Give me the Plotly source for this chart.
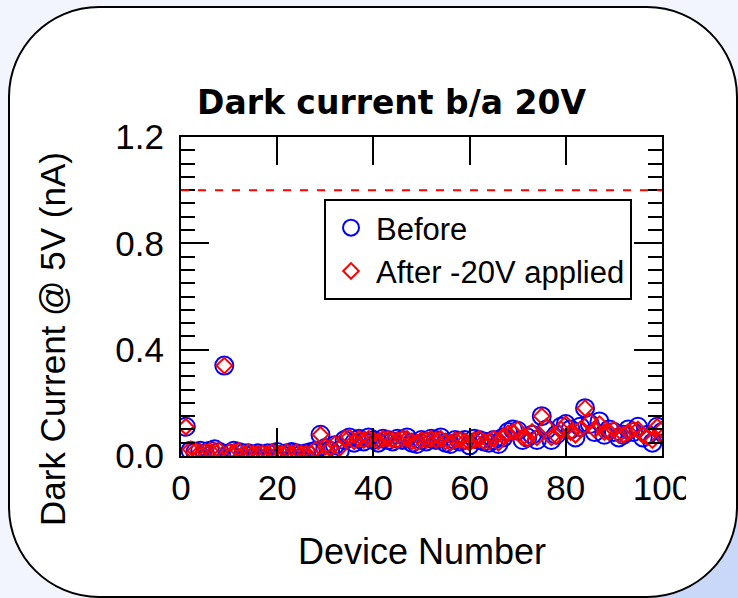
import plotly.graph_objects as go

device = list(range(1, 101))
before = [0.11, 0.02, 0.015, 0.02, 0.01, 0.02, 0.025, 0.015, 0.34, 0.01,
          0.02, 0.015, 0.01, 0.01, 0.005, 0.01, 0.005, 0.01, 0.01, 0.015,
          0.005, 0.01, 0.015, 0.01, 0.005, 0.01, 0.015, 0.02, 0.08, 0.03,
          0.02, 0.04, 0.02, 0.06, 0.07, 0.05, 0.065, 0.055, 0.07, 0.06,
          0.05, 0.065, 0.06, 0.055, 0.065, 0.06, 0.07, 0.05, 0.045, 0.06,
          0.055, 0.065, 0.06, 0.07, 0.05, 0.045, 0.06, 0.055, 0.06, 0.04,
          0.065, 0.06, 0.055, 0.05, 0.06, 0.045, 0.07, 0.09, 0.10, 0.095,
          0.06, 0.07, 0.08, 0.06, 0.15, 0.10, 0.06, 0.08, 0.11, 0.12,
          0.10, 0.07, 0.11, 0.18, 0.12, 0.09, 0.13, 0.08, 0.10, 0.09,
          0.07, 0.08, 0.10, 0.09, 0.11, 0.07, 0.08, 0.05, 0.11, 0.09]
after = [0.11, 0.025, 0.02, 0.015, 0.015, 0.02, 0.02, 0.02, 0.34, 0.015,
         0.015, 0.02, 0.01, 0.015, 0.01, 0.01, 0.01, 0.01, 0.015, 0.01,
         0.01, 0.015, 0.01, 0.015, 0.01, 0.01, 0.01, 0.025, 0.08, 0.035,
         0.03, 0.045, 0.03, 0.065, 0.07, 0.055, 0.065, 0.06, 0.065, 0.06,
         0.055, 0.065, 0.065, 0.06, 0.06, 0.065, 0.065, 0.055, 0.05, 0.06,
         0.06, 0.065, 0.06, 0.065, 0.055, 0.05, 0.06, 0.06, 0.055, 0.05,
         0.06, 0.065, 0.055, 0.055, 0.065, 0.05, 0.075, 0.085, 0.09, 0.10,
         0.07, 0.065, 0.09, 0.07, 0.15, 0.11, 0.07, 0.075, 0.10, 0.12,
         0.09, 0.08, 0.10, 0.18, 0.13, 0.10, 0.12, 0.09, 0.09, 0.10,
         0.08, 0.08, 0.09, 0.10, 0.10, 0.08, 0.07, 0.06, 0.11, 0.10]
threshold = 1.0

x_ticks = [0, 20, 40, 60, 80, 100]
y_ticks = [0.0, 0.4, 0.8, 1.2]
y_ticklabels = ["0.0", "0.4", "0.8", "1.2"]

W, H = 738, 598
L, R, T, B = 181, 662, 137, 456


def px(x):
    return (x - L) / (R - L)


def py(y):
    return (B - y) / (B - T)


def rrect(x0, y0, x1, y1, r):
    k = 0.5523 * r
    pts = [
        f"M{px(x0 + r)},{py(y0)}",
        f"L{px(x1 - r)},{py(y0)}",
        f"C{px(x1 - r + k)},{py(y0)} {px(x1)},{py(y0 + r - k)} {px(x1)},{py(y0 + r)}",
        f"L{px(x1)},{py(y1 - r)}",
        f"C{px(x1)},{py(y1 - r + k)} {px(x1 - r + k)},{py(y1)} {px(x1 - r)},{py(y1)}",
        f"L{px(x0 + r)},{py(y1)}",
        f"C{px(x0 + r - k)},{py(y1)} {px(x0)},{py(y1 - r + k)} {px(x0)},{py(y1 - r)}",
        f"L{px(x0)},{py(y0 + r)}",
        f"C{px(x0)},{py(y0 + r - k)} {px(x0 + r - k)},{py(y0)} {px(x0 + r)},{py(y0)}",
        "Z",
    ]
    return " ".join(pts)


def corner_br(x1, y1, r, ex, ey):
    k = 0.5523 * r
    return " ".join([
        f"M{px(ex)},{py(y1 - r)}",
        f"L{px(x1)},{py(y1 - r)}",
        f"C{px(x1)},{py(y1 - r + k)} {px(x1 - r + k)},{py(y1)} {px(x1 - r)},{py(y1)}",
        f"L{px(x1 - r)},{py(ey)}",
        f"L{px(ex)},{py(ey)}",
        "Z",
    ])


fig = go.Figure()
fig.add_trace(go.Scatter(
    x=device, y=before, mode="markers", name="Before",
    marker=dict(symbol="circle-open", size=18, color="#0000ff",
                line=dict(width=2, color="#0000ff")),
))
fig.add_trace(go.Scatter(
    x=device, y=after, mode="markers", name="After -20V applied",
    marker=dict(symbol="diamond-open", size=12, color="#ff0000",
                line=dict(width=2, color="#ff0000")),
))

font_main = "Liberation Sans, Arial, sans-serif"

shapes = [
    dict(type="path", xref="paper", yref="paper", layer="below",
         path=corner_br(737, 597, 88, 740, 600),
         fillcolor="#c9d8f8", line=dict(width=0)),
    dict(type="path", xref="paper", yref="paper", layer="below",
         path=rrect(9, 7, 737, 597, 90),
         fillcolor="white", line=dict(color="black", width=2)),
    dict(type="line", xref="paper", yref="y", x0=0, x1=1, y0=threshold, y1=threshold,
         line=dict(color="#ff0000", width=2, dash="8px,9px")),
    # clip of the last x tick label as in the reference
    dict(type="rect", xref="paper", yref="paper", layer="above",
         x0=px(686), x1=px(700), y0=py(468), y1=py(508),
         fillcolor="white", line=dict(width=0)),
]

annotations = [
    dict(text="<b>Dark current b/a 20V</b>", xref="paper", yref="paper",
         x=px(391.5), y=py(102), xanchor="center", yanchor="middle", showarrow=False,
         font=dict(family="DejaVu Sans, Verdana, sans-serif", size=33, color="black")),
    dict(text="Device Number", xref="paper", yref="paper",
         x=px(421.5), y=py(551), xanchor="center", yanchor="middle", showarrow=False,
         font=dict(family=font_main, size=36, color="black")),
    dict(text="Dark Current @ 5V (nA)", xref="paper", yref="paper",
         x=px(52), y=py(339), xanchor="center", yanchor="middle", showarrow=False,
         textangle=-90, font=dict(family=font_main, size=35, color="black")),
]

fig.update_layout(
    width=W, height=H,
    margin=dict(l=L, r=W - R, t=T, b=H - B, pad=0),
    paper_bgcolor="#f2f5fd",
    plot_bgcolor="rgba(0,0,0,0)",
    showlegend=True,
    legend=dict(x=px(324), y=py(199), xanchor="left", yanchor="top",
                bgcolor="white", bordercolor="black", borderwidth=2,
                font=dict(family=font_main, size=31, color="black"),
                itemwidth=40, tracegroupgap=0),
    shapes=shapes,
    annotations=annotations,
    font=dict(family=font_main, color="black"),
)

fig.update_xaxes(
    range=[0, 100], tickvals=x_ticks, ticks="inside", ticklen=28, tickwidth=2,
    tickcolor="black", showline=True, linecolor="black", linewidth=2,
    mirror="ticks", showgrid=False, zeroline=False,
    tickfont=dict(family=font_main, size=35, color="black"),
)
fig.update_yaxes(
    range=[0, 1.2], tickvals=y_ticks, ticktext=y_ticklabels, ticks="inside",
    ticklen=28, tickwidth=2, tickcolor="black", showline=True, linecolor="black",
    linewidth=2, mirror="ticks", showgrid=False, zeroline=False,
    ticklabelstandoff=8,
    tickfont=dict(family=font_main, size=35, color="black"),
    minor=dict(dtick=0.05, tick0=0, ticks="inside", ticklen=14, tickwidth=2,
               tickcolor="black", showgrid=False),
)

fig.write_html("out.html")
